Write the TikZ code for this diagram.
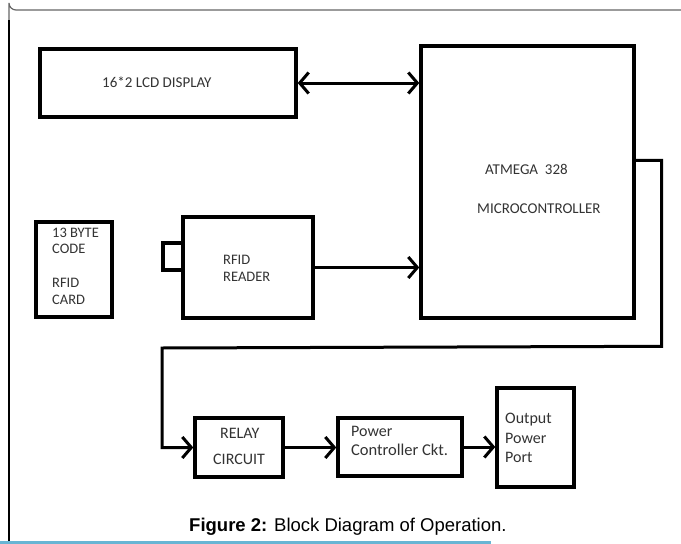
\documentclass[tikz,border=0pt]{standalone}
\usepackage{fontspec}
\setmainfont{Carlito}
\newfontfamily\capfont{Liberation Sans}
\usetikzlibrary{arrows.meta,calc}
\begin{document}
\begin{tikzpicture}[x=1pt,y=-1pt,
  blk/.style={draw,line width=3.4pt,inner sep=0pt},
  lbl/.style={anchor=base west,inner sep=0pt,text=black!80,font=\fontsize{15}{18}\selectfont},
  lbs/.style={lbl,font=\fontsize{14.5}{18}\selectfont},
  lbb/.style={lbl,font=\fontsize{16}{19}\selectfont},
  arr/.style={line width=3pt,-{Straight Barb[length=9pt,width=21pt]}},
  darr/.style={line width=3pt,{Straight Barb[length=9pt,width=21pt]}-{Straight Barb[length=9pt,width=21pt]}}]
\useasboundingbox (0,0) rectangle (681,544);
% frame
\draw[black!60,line width=1.2pt] (681,10) -- (16,10) arc[start angle=90,end angle=180,radius=7] -- (9,20);
\draw[black,line width=1.4pt] (9,20) -- (9,544);
\fill[fill={rgb,255:red,104;green,181;blue,212}] (0,540.5) rectangle (491,544);
% boxes
\node[blk,minimum width=256,minimum height=68] (lcd) at (168,83) {};
\node[blk,minimum width=213,minimum height=272] (mcu) at (527.5,182) {};
\node[blk,minimum width=76,minimum height=95] (card) at (74,269.5) {};
\node[blk,minimum width=130,minimum height=101] (reader) at (248,267.5) {};
\node[blk,minimum width=20,minimum height=27] (tag) at (173,256.5) {};
\node[blk,minimum width=88,minimum height=59] (relay) at (239,447.5) {};
\node[blk,minimum width=124,minimum height=58] (pcc) at (400,447) {};
\node[blk,minimum width=77,minimum height=99] (out) at (535.5,437.5) {};
% labels
\node[lbl] (t1) at (102,87) {16*2 LCD DISPLAY};
\node[lbl] (t2) at (485,174) {ATMEGA\ \ 328};
\node[lbl] (t3) at (477,213) {MICROCONTROLLER};
\node[lbs] (t4) at (52,237) {13 BYTE};
\node[lbs] (t5) at (52,253) {CODE};
\node[lbs] (t6) at (52,287) {RFID};
\node[lbs] (t7) at (52,304) {CARD};
\node[lbs] (t8) at (223,264) {RFID};
\node[lbs] (t9) at (223,281) {READER};
\node[lbb] (t10) at (220,438) {RELAY};
\node[lbb] (t11) at (213,464) {CIRCUIT};
\node[lbb] (t12) at (351,436) {Power};
\node[lbl,font=\fontsize{16.5}{19}\selectfont] (t13) at (351,455) {Controller Ckt.};
\node[lbb] (t14) at (505,423) {Output};
\node[lbb] (t15) at (505,443) {Power};
\node[lbb] (t16) at (505,462) {Port};
\node[anchor=base west,inner sep=0pt,font=\capfont\fontsize{18.5}{22}\selectfont] (cap) at (189,531) {\textbf{Figure 2:} Block Diagram of Operation.};
% connectors
\draw[darr] (lcd.east) -- (lcd.east -| mcu.west);
\draw[arr] (reader.east) -- (reader.east -| mcu.west);
\coordinate (m1) at ($(mcu.north east)+(0,116)$);
\coordinate (c1) at ($(m1)+(26,0)$);
\coordinate (c2) at ($(c1)+(0,186)$);
\coordinate (c3) at (162,348);
\draw[arr] (m1) -- (c1) -- (c2) -- (c3) |- (relay.west);
\draw[arr] (relay.east) -- (relay.east -| pcc.west);
\draw[arr] (pcc.east) -- (pcc.east -| out.west);
\end{tikzpicture}
\end{document}
